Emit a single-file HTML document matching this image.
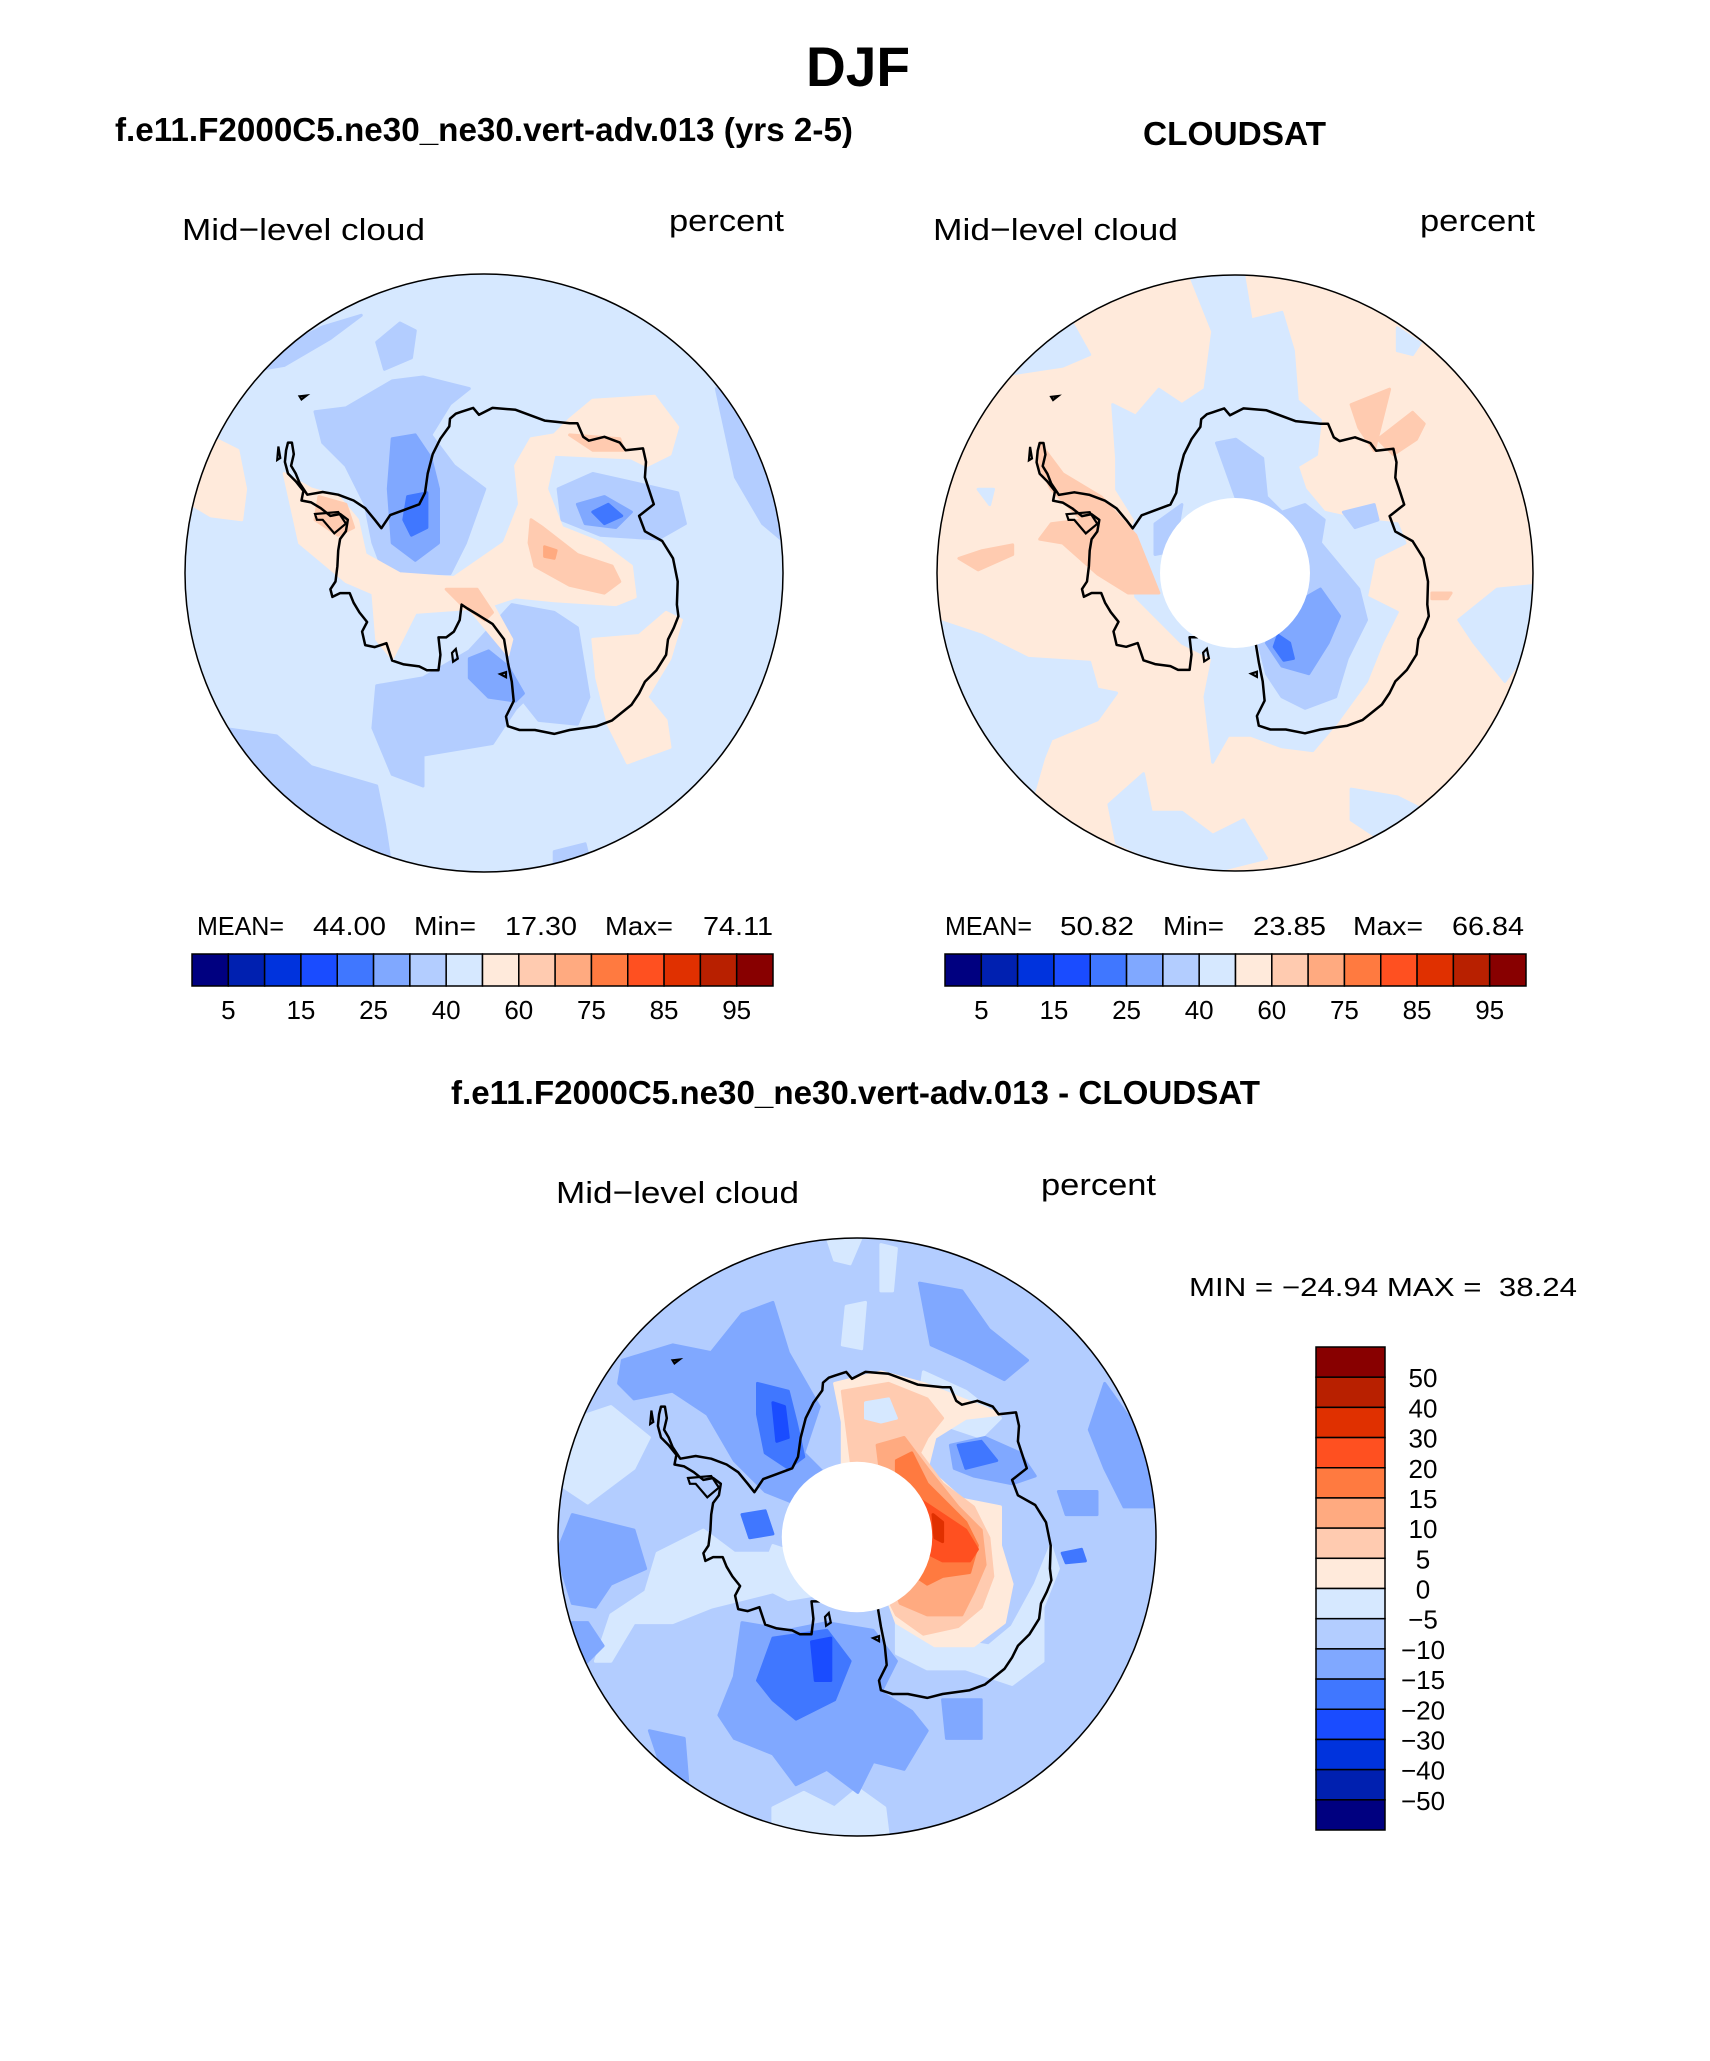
<!DOCTYPE html>
<html><head><meta charset="utf-8"><title>DJF Mid-level cloud</title>
<style>
html,body{margin:0;padding:0;background:#fff;}
svg{display:block;font-family:"Liberation Sans",sans-serif;}
.t{font-weight:bold;fill:#000;}
.n{fill:#000;}
</style></head>
<body>
<svg id="fig" width="1710" height="2061" viewBox="0 0 1710 2061" xmlns="http://www.w3.org/2000/svg">
<text class="t" x="806" y="86" font-size="56" textLength="104" lengthAdjust="spacingAndGlyphs">DJF</text>
<text class="t" x="115" y="141" font-size="33" textLength="738" lengthAdjust="spacingAndGlyphs">f.e11.F2000C5.ne30_ne30.vert-adv.013 (yrs 2-5)</text>
<text class="t" x="1143" y="145" font-size="33" textLength="183" lengthAdjust="spacingAndGlyphs">CLOUDSAT</text>
<text class="n" x="182" y="240" font-size="31" textLength="243" lengthAdjust="spacingAndGlyphs">Mid−level cloud</text>
<text class="n" x="669" y="231" font-size="31" textLength="115" lengthAdjust="spacingAndGlyphs">percent</text>
<text class="n" x="933" y="240" font-size="31" textLength="245" lengthAdjust="spacingAndGlyphs">Mid−level cloud</text>
<text class="n" x="1420" y="231" font-size="31" textLength="115" lengthAdjust="spacingAndGlyphs">percent</text>
<text class="t" x="451" y="1104" font-size="33" textLength="809" lengthAdjust="spacingAndGlyphs">f.e11.F2000C5.ne30_ne30.vert-adv.013 - CLOUDSAT</text>
<text class="n" x="556" y="1203" font-size="31" textLength="243" lengthAdjust="spacingAndGlyphs">Mid−level cloud</text>
<text class="n" x="1041" y="1195" font-size="31" textLength="115" lengthAdjust="spacingAndGlyphs">percent</text>
<text class="n" x="1189" y="1296" font-size="26" textLength="388" lengthAdjust="spacingAndGlyphs" xml:space="preserve">MIN = −24.94 MAX =  38.24</text>
<g id="stats"></g>
<g id="maps"></g>
<g id="bars"></g>
</svg>
<script>
const NS='http://www.w3.org/2000/svg';
const svg=document.getElementById('fig');
const colors=['#000080','#0020b0','#0033dd','#1a4cff','#4077ff','#80a8ff','#b3cdff','#d6e8ff','#ffeadb','#ffcbb0','#ffaa80','#ff7a40','#ff5020','#e03000','#b82000','#880000'];
const topLevels=[5,10,15,20,25,30,40,50,60,70,75,80,85,90,95];
const topShown=[5,15,25,40,60,75,85,95];
const diffLevels=[-50,-40,-30,-20,-15,-10,-5,0,5,10,15,20,30,40,50];
const leftStats=['MEAN=','44.00','Min=','17.30','Max=','74.11'];
const rightStats=['MEAN=','50.82','Min=','23.85','Max=','66.84'];

function el(tag,attrs,parent){const e=document.createElementNS(NS,tag);for(const k in attrs)e.setAttribute(k,attrs[k]);(parent||svg).appendChild(e);return e;}

const BAR_Y=954, BAR_H=32, STAT_Y=935, LAB_Y=1019;
const statX1=[197,313,414,505,605,703], statW1=[87,73,62,72,68,70];
const statX2=[945,1060,1163,1253,1353,1452], statW2=[87,74,61,73,70,72];
const sg=document.getElementById('stats');
function stats(vals,xs,ws,pfx){vals.forEach((v,i)=>{const t=el('text',{x:xs[i],y:STAT_Y,'font-size':26,class:'n',textLength:ws[i],lengthAdjust:'spacingAndGlyphs'},sg);


t.textContent=v;});}
stats(leftStats,statX1,statW1,'left');stats(rightStats,statX2,statW2,'right');

const bg=document.getElementById('bars');
function hbar(x0,x1,pfx){const n=colors.length,w=(x1-x0)/n;
 colors.forEach((c,i)=>{const r=el('rect',{x:x0+i*w,y:BAR_Y,width:w,height:BAR_H,fill:c,stroke:'#000','stroke-width':1.5},bg);
 
 });
 topLevels.forEach((lv,i)=>{if(topShown.indexOf(lv)<0)return;const t=el('text',{x:x0+(i+1)*w,y:LAB_Y,'font-size':26,'text-anchor':'middle',class:'n'},bg);
 
 
 t.textContent=lv;});}
hbar(192,773,'left');hbar(945,1526,'right');
(function(){const x0=1316,x1=1385,y0=1347,y1=1830,n=colors.length,h=(y1-y0)/n;
 colors.slice().reverse().forEach((c,i)=>{const r=el('rect',{x:x0,y:y0+i*h,width:x1-x0,height:h,fill:c,stroke:'#000','stroke-width':1.5},bg);
 
 });
 diffLevels.slice().reverse().forEach((lv,i)=>{const t=el('text',{x:1423,y:y0+(i+1)*h+10,'font-size':26,'text-anchor':'middle',class:'n'},bg);
 
 
 t.textContent=String(lv).replace('-','−');});})();

const coast=[[280,440],[285,470],[278,500],[290,520],[300,545],[320,575],[360,568],[400,575],[440,590],[470,610],[495,640],[512,662],[535,628],[570,615],[610,600],[625,570],[632,520],[645,470],[665,430],[688,398],[690,378],[705,365],[720,360],[735,355],[750,350],[765,368],[800,350],[860,355],[935,383],[1000,390],[1020,390],[1035,425],[1050,435],[1090,425],[1130,440],[1145,460],[1190,455],[1198,490],[1195,530],[1205,560],[1218,600],[1180,630],[1195,670],[1240,695],[1268,740],[1280,800],[1278,860],[1282,890],[1270,920],[1255,950],[1250,990],[1225,1030],[1195,1060],[1180,1090],[1160,1120],[1110,1160],[1070,1175],[1000,1185],[960,1195],[910,1185],[870,1185],[840,1175],[835,1150],[855,1110],[850,1060],[840,1010],[830,950],[800,910],[760,885],[735,870],[720,860],[715,900],[700,930],[680,945],[660,945],[665,990],[660,1030],[630,1030],[610,1020],[570,1015],[540,1005],[525,960],[495,970],[470,965],[462,930],[475,905],[455,880],[440,855],[430,830],[405,830],[385,840],[380,820],[393,800],[398,760],[400,720],[405,690],[420,670],[425,640],[405,625],[380,630],[355,610],[330,595],[305,590],[310,565],[290,540],[270,520],[262,490],[265,460],[270,440]];
const coastExtra=[[[340,625],[400,620],[420,650],[390,675],[360,640],[345,640]],[[300,320],[318,318],[305,328]],[[695,985],[705,975],[710,1000],[698,1008]],[[820,1040],[835,1035],[835,1048]],[[245,450],[250,480],[242,485]]];

const leftShapes=[
[6,[[340,360],[420,350],[540,280],[620,270],[740,300],[690,340],[640,420],[700,500],[780,560],[730,700],[690,780],[520,780],[490,700],[470,600],[420,500],[360,440]]],
[6,[[500,180],[560,130],[600,150],[590,220],[520,250]]],
[6,[[970,560],[1060,520],[1150,540],[1280,570],[1300,650],[1230,690],[1080,680],[980,640]]],
[6,[[500,1070],[620,1050],[740,980],[850,860],[960,880],[1020,920],[1050,1100],[1020,1170],[920,1160],[880,1110],[860,1130],[800,1220],[620,1250],[620,1330],[540,1300],[490,1180]]],
[6,[[100,1180],[240,1200],[330,1280],[500,1330],[520,1430],[540,1560],[400,1520],[250,1400],[160,1300]]],
[6,[[1380,300],[1450,380],[1520,540],[1560,700],[1500,650],[1430,530]]],
[6,[[200,250],[280,180],[360,140],[460,110],[380,170],[260,240]]],
[6,[[960,1500],[1040,1480],[1060,1560],[960,1560]]],
[5,[[540,430],[600,420],[640,480],[660,560],[660,700],[600,745],[540,700],[530,560]]],
[5,[[1020,600],[1090,580],[1160,620],[1120,660],[1040,650]]],
[5,[[740,1000],[790,980],[840,1020],[880,1090],[860,1110],[790,1100],[740,1050]]],
[4,[[580,580],[630,570],[630,660],[590,680],[570,640]]],
[4,[[1060,620],[1100,600],[1135,630],[1090,650]]],
[8,[[260,520],[330,560],[400,580],[450,640],[470,730],[560,780],[700,790],[830,700],[870,600],[860,500],[900,430],[960,420],[1000,380],[1060,330],[1220,320],[1280,400],[1260,470],[1200,500],[1160,480],[960,470],[940,560],[980,660],[1080,700],[1160,760],[1170,840],[1120,860],[960,850],[860,840],[800,860],[850,950],[840,990],[740,870],[600,880],[560,960],[540,1000],[500,950],[490,830],[420,800],[300,700]]],
[8,[[1060,950],[1180,940],[1250,880],[1290,900],[1260,1000],[1200,1100],[1250,1160],[1260,1230],[1150,1270],[1100,1170],[1070,1050]]],
[8,[[20,470],[80,430],[140,460],[160,560],[150,640],[70,630],[20,600]]],
[9,[[900,640],[930,660],[1020,730],[1110,760],[1130,800],[1090,830],[1000,810],[910,760],[895,700]]],
[9,[[350,580],[420,600],[440,660],[400,680],[340,640]]],
[9,[[680,820],[760,820],[800,880],[780,900],[720,860]]],
[9,[[1000,420],[1130,430],[1140,460],[1060,460]]],
[10,[[935,710],[965,720],[960,740],[935,735]]]
];
const rightShapes=[
[7,[[660,0],[800,0],[820,120],[900,100],[930,200],[940,330],[1000,380],[990,470],[940,500],[960,560],[1010,620],[1100,640],[1200,650],[1220,700],[1140,740],[1120,840],[1200,880],[1160,960],[1120,1060],[1040,1170],[980,1240],[900,1230],[820,1200],[760,1200],[720,1270],[700,1100],[720,1000],[640,960],[580,900],[520,840],[500,700],[520,640],[470,560],[470,480],[460,340],[520,370],[580,300],[640,340],[700,300],[720,150]]],
[7,[[0,900],[120,940],[240,1000],[400,1010],[420,1080],[470,1090],[420,1160],[300,1210],[280,1260],[240,1400],[160,1300],[60,1150],[10,1000]]],
[7,[[540,1300],[560,1400],[640,1400],[720,1460],[800,1420],[860,1520],[700,1560],[560,1520],[470,1480],[450,1380]]],
[7,[[1080,1340],[1200,1360],[1280,1400],[1140,1460],[1080,1420]]],
[7,[[1360,900],[1460,820],[1560,810],[1560,950],[1480,1060],[1400,960]]],
[7,[[270,160],[350,120],[400,210],[330,240],[200,260],[120,330],[150,280]]],
[7,[[110,560],[150,560],[140,600]]],
[7,[[1200,140],[1260,180],[1240,210],[1200,200]]],
[6,[[730,440],[780,430],[850,480],[860,580],[900,620],[960,600],[1010,640],[1000,700],[1100,820],[1120,900],[1070,1000],[1040,1100],[960,1130],[900,1100],[860,1040],[840,960],[880,860]]],
[6,[[570,650],[640,600],[620,720],[570,730]]],
[6,[[1060,620],[1140,600],[1150,640],[1090,660]]],
[5,[[930,860],[1000,820],[1050,890],[1020,960],[970,1040],[900,1020],[860,960]]],
[4,[[890,940],[920,960],[930,1000],[905,1005],[880,970]]],
[9,[[270,440],[330,520],[430,580],[520,680],[560,780],[580,830],[500,830],[420,780],[330,700],[270,690],[300,650],[380,640],[300,560],[270,500]]],
[9,[[60,740],[120,720],[200,705],[200,730],[110,770]]],
[9,[[1080,340],[1180,300],[1160,380],[1140,460],[1100,400]]],
[9,[[1150,430],[1240,360],[1270,390],[1250,430],[1190,470]]],
[9,[[1290,830],[1340,830],[1330,845],[1290,845]]]
];
const diffShapes=[
[7,[[20,480],[140,440],[240,520],[200,600],[80,690],[20,650]]],
[7,[[260,820],[380,760],[460,820],[560,820],[600,870],[560,920],[400,960],[300,1000],[200,1000],[140,1100],[100,1100],[140,980],[230,920]]],
[7,[[1000,1040],[1120,1060],[1180,1010],[1240,900],[1280,800],[1300,860],[1260,960],[1260,1100],[1180,1160],[1060,1120],[960,1120],[880,1080],[880,1000]]],
[7,[[700,0],[790,0],[760,70],[720,60]]],
[7,[[750,180],[800,170],[790,290],[740,280]]],
[7,[[840,20],[880,30],[870,140],[840,140]]],
[7,[[560,1480],[640,1440],[720,1480],[780,1430],[850,1480],[860,1560],[560,1560]]],
[7,[[560,800],[620,820],[660,930],[600,940],[520,900]]],
[7,[[950,350],[1060,400],[1150,470],[1100,520],[980,480],[940,420]]],
[5,[[40,720],[200,760],[230,860],[140,900],[100,960],[40,950],[0,820]]],
[5,[[0,1000],[80,1000],[120,1060],[60,1120],[0,1100]]],
[5,[[170,320],[300,280],[400,300],[480,200],[560,170],[600,300],[680,440],[640,560],[700,620],[640,700],[540,660],[460,580],[390,460],[300,400],[200,420],[160,380]]],
[5,[[480,1000],[600,1020],[700,1000],[820,1020],[880,1100],[840,1180],[920,1230],[960,1280],[900,1380],[820,1360],[780,1440],[700,1380],[620,1420],[560,1340],[460,1300],[420,1240],[460,1140]]],
[5,[[940,120],[1050,140],[1120,240],[1220,320],[1160,370],[1060,320],[970,280]]],
[5,[[1420,380],[1520,520],[1560,700],[1470,700],[1420,600],[1380,500]]],
[5,[[1020,540],[1110,520],[1200,560],[1240,620],[1180,640],[1080,620],[1030,600]]],
[5,[[1300,660],[1400,660],[1400,720],[1320,720]]],
[5,[[240,1280],[330,1300],[340,1420],[280,1400]]],
[5,[[1000,1200],[1100,1200],[1100,1300],[1010,1300]]],
[4,[[520,380],[600,400],[620,480],[640,570],[600,600],[540,560],[520,460]]],
[4,[[560,1040],[700,1020],[760,1100],[720,1200],[620,1250],[560,1200],[520,1150]]],
[4,[[1040,540],[1100,530],[1140,580],[1060,600]]],
[4,[[480,720],[540,710],[560,770],[500,780]]],
[4,[[1310,820],[1360,810],[1370,840],[1320,845]]],
[3,[[560,430],[590,440],[600,520],[570,530]]],
[3,[[660,1050],[710,1040],[710,1150],[670,1150]]],
[8,[[720,380],[840,350],[950,380],[1050,420],[1150,460],[1060,470],[980,520],[960,600],[1050,680],[1150,700],[1150,800],[1180,900],[1160,1000],[1080,1060],[980,1060],[880,1000],[850,920],[800,820],[760,700],[740,600],[740,480]]],
[9,[[740,400],[860,380],[960,420],[1000,470],[960,520],[940,560],[1000,640],[1080,700],[1120,780],[1130,880],[1100,960],[1040,1010],[950,1030],[880,980],[820,860],[780,720],[760,560]]],
[7,[[800,430],[860,420],[880,470],[840,480],[800,470]]],
[10,[[830,540],[900,520],[960,600],[1040,700],[1100,760],[1110,850],[1080,920],[1050,980],[960,980],[890,950],[860,860],[850,700]]],
[11,[[880,580],[920,560],[960,640],[1060,740],[1090,800],[1070,870],[1000,880],[960,900],[900,860],[880,720]]],
[12,[[940,680],[1000,720],[1060,760],[1090,810],[1070,840],[1000,840],[960,820],[940,750]]],
[13,[[975,720],[1000,740],[1000,790],[980,780]]]
];
const mg=document.getElementById('maps');
let clipId=0;
function drawMap(name,cx,cy,r,base,shapes,hole){
 const g=el('g',{},mg);
 
 
 const id='clip'+(clipId++);
 const cp=el('clipPath',{id:id},g);el('circle',{cx:cx,cy:cy,r:r},cp);
 const inner=el('g',{'clip-path':'url(#'+id+')'},g);
 const P=p=>[(cx+(p[0]-778)/775*r).toFixed(1),(cy+(p[1]-778)/775*r).toFixed(1)].join(',');
 el('circle',{cx:cx,cy:cy,r:r,fill:colors[base]},inner);
 shapes.forEach(s=>{const p=el('polygon',{points:s[1].map(P).join(' '),fill:colors[s[0]],stroke:colors[s[0]],'stroke-width':3,'stroke-linejoin':'round'},inner);
  
  });
 const c=el('polygon',{points:coast.map(P).join(' '),fill:'none',stroke:'#000','stroke-width':2.5,'stroke-linejoin':'round'},inner);
 
 
 coastExtra.forEach(ce=>{el('polygon',{points:ce.map(P).join(' '),fill:'none',stroke:'#000','stroke-width':2.2},inner);});
 if(hole){const h=el('circle',{cx:cx,cy:cy,r:r*195/775,fill:'#fff'},inner);
  
  }
 const b=el('circle',{cx:cx,cy:cy,r:r,fill:'none',stroke:'#000','stroke-width':1.5},g);
 
 
}
drawMap('model-map',484,573,299,7,leftShapes,false);
drawMap('cloudsat-map',1235,573,298,8,rightShapes,true);
drawMap('difference-map',857,1537,299,6,diffShapes,true);
</script>
</body></html>
